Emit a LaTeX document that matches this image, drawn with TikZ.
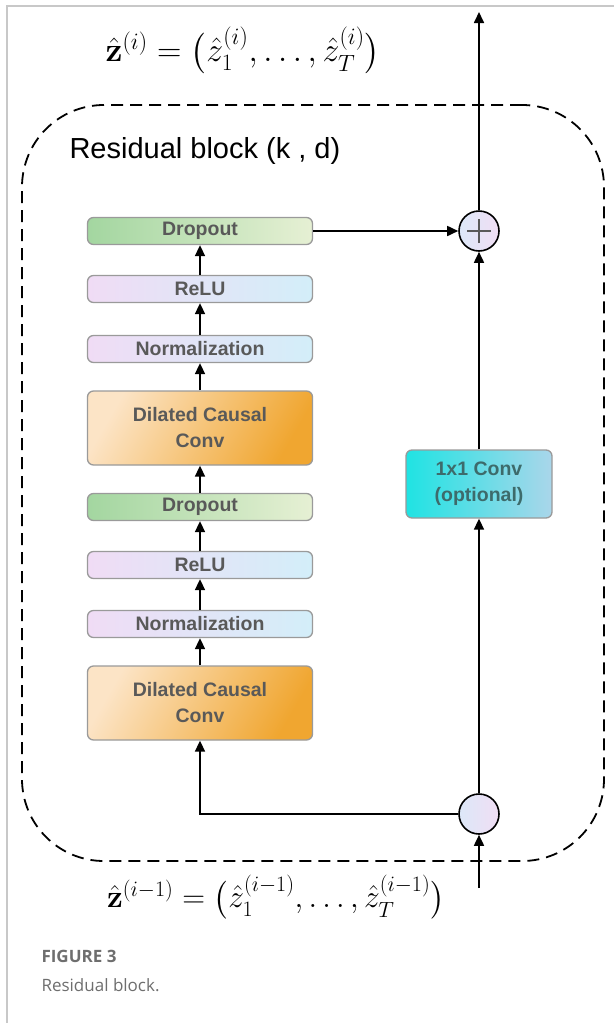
\documentclass[tikz,border=0pt]{standalone}
\usepackage{graphicx}
\usepackage{amsmath}
\usepackage[no-math]{fontspec}
\setmainfont{Liberation Sans}
\newfontfamily\capfont{Open Sans}
\usetikzlibrary{arrows.meta}
\definecolor{framegray}{HTML}{C8C8C8}
\definecolor{boxborder}{HTML}{9A9A9A}
\definecolor{boxtext}{HTML}{595959}
\definecolor{dropL}{HTML}{A3D6A0}
\definecolor{dropR}{HTML}{E6F0D4}
\definecolor{lavL}{HTML}{F0DCF5}
\definecolor{blueR}{HTML}{D3EEF9}
\definecolor{dccL}{HTML}{FCE4C6}
\definecolor{dccR}{HTML}{F0A630}
\definecolor{convL}{HTML}{1FE3E3}
\definecolor{convR}{HTML}{AAD6EA}
\definecolor{convtext}{HTML}{3D6B6B}
\definecolor{circL}{HTML}{DCE8F8}
\definecolor{circR}{HTML}{F0DEF4}
\definecolor{capgray}{HTML}{6E6E6E}
\begin{document}
\begin{tikzpicture}[x=1pt,y=-1pt,
  layer/.style={draw=boxborder, line width=1.3pt, rounded corners=6pt,
    minimum width=225pt, minimum height=27pt, inner sep=0pt,
    font=\fontsize{19.5}{26}\selectfont\bfseries, text=boxtext, align=center},
  dropbox/.style={layer, left color=dropL, right color=dropR},
  relubox/.style={layer, left color=lavL, right color=blueR},
  dccbox/.style={layer, minimum height=74pt, left color=dccL, right color=dccR, shading angle=60},
  convbox/.style={layer, minimum width=146pt, minimum height=68pt, left color=convL, right color=convR, text=convtext},
  sumnode/.style={circle, draw=black, line width=1.6pt, minimum size=40pt, inner sep=0pt, left color=circL, right color=circR},
  arr/.style={-{Triangle[length=11pt,width=10pt]}, line width=1.7pt},
  blockline/.style={draw=black, line width=1.8pt, dash pattern=on 12pt off 7pt},
]
\useasboundingbox (0,0) rectangle (614,1023);
\draw[framegray, line width=1.2pt] (7,1023) -- (7,6) -- (614,6);

% dashed residual block
\node[blockline, rounded corners=82pt, minimum width=582pt, minimum height=756pt, inner sep=0pt] (block) at (313,483) {};
\node[anchor=base west, font=\fontsize{29}{32}\selectfont] (title) at (66,158) {Residual block (k , d)};

% formulas
\node (zout) at (243,50) {\scalebox{1.36}{\fontsize{24}{28}\selectfont $\hat{\mathbf{z}}^{(i)} = \bigl(\hat{z}_1^{(i)}, \ldots, \hat{z}_T^{(i)}\bigr)$}};
\node (zin) at (276,897) {\scalebox{1.27}{\fontsize{24}{28}\selectfont $\hat{\mathbf{z}}^{(i-1)} = \bigl(\hat{z}_1^{(i-1)}, \ldots, \hat{z}_T^{(i-1)}\bigr)$}};

% left column
\node[dropbox] (dp1) at (200,231) {Dropout};
\node[relubox] (r1) at (200,289) {ReLU};
\node[relubox] (n1) at (200,349) {Normalization};
\node[dccbox] (c1) at (200,428) {Dilated Causal\\Conv};
\node[dropbox] (dp2) at (200,507) {Dropout};
\node[relubox] (r2) at (200,565) {ReLU};
\node[relubox] (n2) at (200,624) {Normalization};
\node[dccbox] (c2) at (200,703) {Dilated Causal\\Conv};

% right column
\node[sumnode] (plus) at (479,231) {};
\draw[black!65, line width=1.1pt] ([xshift=-12pt]plus.center) -- ([xshift=12pt]plus.center)
  ([yshift=-12pt]plus.center) -- ([yshift=12pt]plus.center);
\node[convbox] (conv) at (479,484) {1x1 Conv\\(optional)};
\node[sumnode] (split) at (479,814) {};
\coordinate (out) at (479,12);
\coordinate (in) at (479,888);

% connectors
\draw[arr] (c2.north) -- (n2.south);
\draw[arr] (n2.north) -- (r2.south);
\draw[arr] (r2.north) -- (dp2.south);
\draw[arr] (dp2.north) -- (c1.south);
\draw[arr] (c1.north) -- (n1.south);
\draw[arr] (n1.north) -- (r1.south);
\draw[arr] (r1.north) -- (dp1.south);
\draw[arr] (dp1.east) -- (plus.west);
\draw[arr] (plus.north) -- (out);
\draw[arr] (conv.north) -- (plus.south);
\draw[arr] (split.north) -- (conv.south);
\draw[arr] (in) -- (split.south);
\draw[arr] (split.west) -| (c2.south);

% caption
\node[anchor=base west, font=\capfont\bfseries\fontsize{17}{20}\selectfont, text=capgray] (fig) at (38,962) {FIGURE 3};
\node[anchor=base west, font=\capfont\fontsize{17}{20}\selectfont, text=capgray] (cap) at (38,991) {Residual block.};
\end{tikzpicture}
\end{document}
